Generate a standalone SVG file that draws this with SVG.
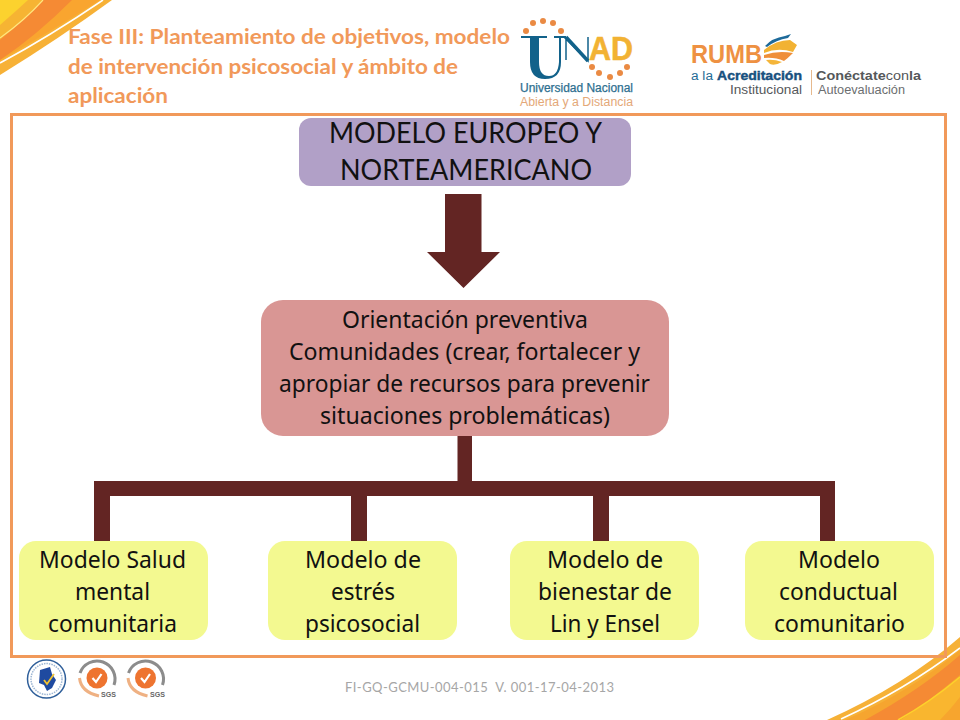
<svg xmlns="http://www.w3.org/2000/svg" width="960" height="720" viewBox="0 0 960 720">
<style>
.title{font:bold 21.5px "Lato","Open Sans",sans-serif;fill:#f1995a}
.head{font:28.500px "Lato","Open Sans",sans-serif;fill:#111}
.body{font:23.500px "Noto Sans","Open Sans",sans-serif;fill:#111}
.link{fill:#632523}
.lg{font-family:"Liberation Sans",Arial,sans-serif}
</style>
<rect width="960" height="720" fill="#fff"/>
<g id="corner-top-left">
<path d="M0 0H112Q60 38 0 75Z" fill="#f7b136"/>
<path d="M0 60Q45 35 100 0H0Z" fill="#f9a52f"/>
<path d="M0 63Q50 36 103 0" fill="none" stroke="#fff" stroke-width="1.600"/>
<path d="M0 60Q36 36 72 0H43Q22 22 0 40Z" fill="#f58a34"/>
<path d="M0 38Q25 20 43 0H0Z" fill="#f6b433"/>
<path d="M0 38Q25 20 43 0" fill="none" stroke="#ffe680" stroke-width="1.200"/>
<path d="M0 25Q15 12 28 0H0Z" fill="#fcd22e"/>
</g>
<g id="corner-bottom-right">
<path d="M827 720Q905 685 960 637V720Z" fill="#f6b137"/>
<path d="M845 720Q910 692 960 650V720Z" fill="#f6a52f"/>
<path d="M841 719Q905 690 960 648" fill="none" stroke="#fff" stroke-width="1.600"/>
<path d="M865 720Q920 690 960 655V675Q930 700 903 720Z" fill="#f58a34"/>
<path d="M900 720Q932 700 960 678V720Z" fill="#f9b62f"/>
<path d="M898 720Q930 702 960 677" fill="none" stroke="#fdd22b" stroke-width="1.500"/>
<path d="M940 720Q950 710 960 697V720Z" fill="#f7a52e"/>
</g>
<rect id="frame" x="11.500" y="114.500" width="934" height="542" fill="none" stroke="#f1995a" stroke-width="3"/>
<g id="title">
<text class="title" x="68" y="44" textLength="442" lengthAdjust="spacingAndGlyphs">Fase III: Planteamiento de objetivos, modelo</text>
<text class="title" x="68" y="74" textLength="390" lengthAdjust="spacingAndGlyphs">de intervención psicosocial y ámbito de</text>
<text class="title" x="68" y="103" textLength="100" lengthAdjust="spacingAndGlyphs">aplicación</text>
</g>
<g id="logo-unad">
<g fill="#ea8a43">
<circle cx="526" cy="31" r="3"/><circle cx="533" cy="23" r="3"/><circle cx="543" cy="21" r="3"/><circle cx="553" cy="23" r="3"/><circle cx="561" cy="31" r="3"/>
<circle cx="592" cy="67" r="3"/><circle cx="599" cy="73" r="3"/><circle cx="610" cy="77" r="3"/><circle cx="620" cy="73" r="3"/><circle cx="627" cy="67" r="3"/>
</g>
<path d="M521 36H547V38H539V62Q539 76 549 76Q558 76 559 62V38H554V36H566V38H561V62Q561 79 545 79Q530 79 530 62V38H521Z" fill="#12628a"/>
<path d="M564 37L588 61V37M566 37V60" fill="none" stroke="#12628a" stroke-width="1.500"/>
<path d="M566 37L588 61" fill="none" stroke="#12628a" stroke-width="3.500"/>
<text class="lg" x="589" y="60" font-size="34" font-weight="bold" fill="#f2b233" stroke="#f2b233" stroke-width=".6" textLength="44" lengthAdjust="spacingAndGlyphs">AD</text>
<text class="lg" x="520" y="92" font-size="12" fill="#2d6f8f" stroke="#2d6f8f" stroke-width=".25" textLength="113" lengthAdjust="spacingAndGlyphs">Universidad Nacional</text>
<text class="lg" x="520" y="106" font-size="12" fill="#e4a878" textLength="113" lengthAdjust="spacingAndGlyphs">Abierta y a Distancia</text>
</g>
<g id="logo-rumbo">
<text class="lg" x="691" y="63" font-size="25" font-weight="bold" fill="#ee9142" textLength="71" lengthAdjust="spacingAndGlyphs">RUMB</text>
<path d="M765 46Q772 38 785 36L791 34L788 38Q776 40 767 47Z" fill="#1d6a9a"/>
<path d="M764 50Q776 40 790 40L797 45L793 52Q778 47 764 53Z" fill="#f2b233"/>
<path d="M764 55Q778 50 793 53Q788 58 784 61Q775 57 764 58Z" fill="#ef8f3a"/>
<path d="M766 60Q774 59 782 62Q775 66 770 64Z" fill="#f4b53a"/>
<text class="lg" x="691" y="80" font-size="12" fill="#1f6d97" textLength="22" lengthAdjust="spacingAndGlyphs">a la</text>
<text class="lg" x="717" y="80" font-size="12" font-weight="bold" fill="#17507e" stroke="#17507e" stroke-width=".4" textLength="85" lengthAdjust="spacingAndGlyphs">Acreditación</text>
<text class="lg" x="730" y="94" font-size="12" fill="#55585a" textLength="72" lengthAdjust="spacingAndGlyphs">Institucional</text>
<rect x="811" y="70" width="1" height="25" fill="#e6b98d"/>
<text class="lg" x="816" y="80" font-size="12" fill="#55585a" textLength="105" lengthAdjust="spacingAndGlyphs"><tspan font-weight="bold">Conéctate</tspan>con<tspan font-weight="bold">la</tspan></text>
<text class="lg" x="818" y="94" font-size="12" fill="#6b6e70" textLength="87" lengthAdjust="spacingAndGlyphs">Autoevaluación</text>
</g>
<g id="connectors">
<path class="link" d="M445 194H481.500V252H500L463.500 288L427 252H445Z"/>
<path class="link" d="M457.500 436H472V481H835V541H820V496H609V541H593V496H367V541H351V496H110V541H94V481H457.500Z"/>
</g>
<g id="node-modelo">
<rect x="299" y="118" width="332" height="68" rx="12" fill="#b1a0c7"/>
<text class="head" x="329" y="143" textLength="273" lengthAdjust="spacingAndGlyphs">MODELO EUROPEO Y</text>
<text class="head" x="340" y="180" textLength="252" lengthAdjust="spacingAndGlyphs">NORTEAMERICANO</text>
</g>
<g id="node-orientacion">
<rect x="261" y="300" width="408" height="136" rx="22" fill="#d99694"/>
<text class="body" x="342" y="328" textLength="246" lengthAdjust="spacingAndGlyphs">Orientación preventiva</text>
<text class="body" x="289" y="360" textLength="351" lengthAdjust="spacingAndGlyphs">Comunidades (crear, fortalecer y</text>
<text class="body" x="279" y="392" textLength="371" lengthAdjust="spacingAndGlyphs">apropiar de recursos para prevenir</text>
<text class="body" x="320" y="424" textLength="290" lengthAdjust="spacingAndGlyphs">situaciones problemáticas)</text>
</g>
<g id="node-salud">
<rect x="19" y="541" width="189" height="99" rx="17" fill="#f3f990"/>
<text class="body" x="39" y="568" textLength="147" lengthAdjust="spacingAndGlyphs">Modelo Salud</text>
<text class="body" x="75" y="600" textLength="75" lengthAdjust="spacingAndGlyphs">mental</text>
<text class="body" x="48" y="632" textLength="129" lengthAdjust="spacingAndGlyphs">comunitaria</text>
</g>
<g id="node-estres">
<rect x="268" y="541" width="189" height="99" rx="17" fill="#f3f990"/>
<text class="body" x="305" y="568" textLength="116" lengthAdjust="spacingAndGlyphs">Modelo de</text>
<text class="body" x="331" y="600" textLength="64" lengthAdjust="spacingAndGlyphs">estrés</text>
<text class="body" x="305" y="632" textLength="115" lengthAdjust="spacingAndGlyphs">psicosocial</text>
</g>
<g id="node-bienestar">
<rect x="510" y="541" width="189" height="99" rx="17" fill="#f3f990"/>
<text class="body" x="547" y="568" textLength="116" lengthAdjust="spacingAndGlyphs">Modelo de</text>
<text class="body" x="538" y="600" textLength="134" lengthAdjust="spacingAndGlyphs">bienestar de</text>
<text class="body" x="550" y="632" textLength="110" lengthAdjust="spacingAndGlyphs">Lin y Ensel</text>
</g>
<g id="node-conductual">
<rect x="745" y="541" width="189" height="99" rx="17" fill="#f3f990"/>
<text class="body" x="798" y="568" textLength="82" lengthAdjust="spacingAndGlyphs">Modelo</text>
<text class="body" x="779" y="600" textLength="119" lengthAdjust="spacingAndGlyphs">conductual</text>
<text class="body" x="774" y="632" textLength="131" lengthAdjust="spacingAndGlyphs">comunitario</text>
</g>
<g id="badges">
<circle cx="46.500" cy="679" r="19" fill="#fff" stroke="#2f5f9a" stroke-width="1.500"/>
<circle cx="46.500" cy="679" r="15.500" fill="none" stroke="#9db6d4" stroke-width="1.500" stroke-dasharray="1.500 1"/>
<path d="M40 670L50 667L52 674L56 680L52 688L47 691L44 685L39 683Z" fill="#1f4aa0"/>
<path d="M44 680L47 684L54 674" fill="none" stroke="#f2c230" stroke-width="1.800"/>
<g id="sgs-1">
<path d="M80 673A18 18 0 0 1 114 685" fill="none" stroke="#8c8c8c" stroke-width="3"/>
<path d="M79.500 678Q81 692 99 696" fill="none" stroke="#efb183" stroke-width="3"/>
<circle cx="97" cy="678" r="10.500" fill="#ee7430"/>
<path d="M92.500 678L96 682L101.500 674" fill="none" stroke="#fff" stroke-width="2.200"/>
<text class="lg" x="101" y="697" font-size="7.500" font-weight="bold" fill="#666" textLength="15" lengthAdjust="spacingAndGlyphs">SGS</text>
</g>
<g id="sgs-2">
<path d="M128.500 673A18 18 0 0 1 162.500 685" fill="none" stroke="#8c8c8c" stroke-width="3"/>
<path d="M128 678Q129.500 692 147.500 696" fill="none" stroke="#efb183" stroke-width="3"/>
<circle cx="145.500" cy="678" r="10.500" fill="#ee7430"/>
<path d="M141 678L144.500 682L150 674" fill="none" stroke="#fff" stroke-width="2.200"/>
<text class="lg" x="150" y="697" font-size="7.500" font-weight="bold" fill="#666" textLength="15" lengthAdjust="spacingAndGlyphs">SGS</text>
</g>
</g>
<text id="footer" x="345" y="692" font-family="Lato,'Open Sans',sans-serif" font-size="13" fill="#a6a6a6" textLength="269" xml:space="preserve">FI-GQ-GCMU-004-015  V. 001-17-04-2013</text>
</svg>
